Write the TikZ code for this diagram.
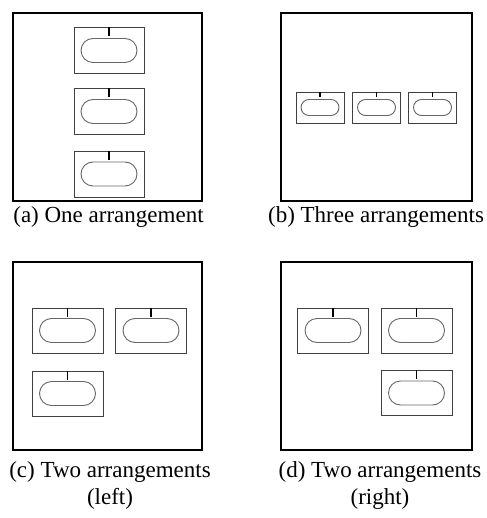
\documentclass[tikz,border=0pt]{standalone}
\usepackage{fontspec}
\setmainfont{Liberation Serif}
\usetikzlibrary{shapes.misc}
\tikzset{
  frame/.style={draw=black, line width=1.8pt},
  cellbox/.style={draw=black!75, line width=0.9pt, inner sep=0pt, minimum width=70pt, minimum height=46pt},
  smallcell/.style={cellbox, minimum width=48pt, minimum height=31pt},
  pill/.style={rounded rectangle, draw=black!60, line width=0.9pt, inner sep=0pt, minimum width=56pt, minimum height=24pt},
  smallpill/.style={pill, minimum width=38pt, minimum height=16pt},
  stub/.style={draw=black, line width=1.6pt},
  caption/.style={font=\fontsize{23}{27}\selectfont, align=center, inner sep=0pt}
}
\begin{document}
\begin{tikzpicture}[x=1pt, y=-1pt]
\useasboundingbox (0,0) rectangle (486,518);
% panel frames
\draw[frame] (13,13) rectangle (202,201);
\draw[frame] (281,13) rectangle (472,201);
\draw[frame] (13,262) rectangle (202,450);
\draw[frame] (281,262) rectangle (472,450);
% (a)
\foreach \n/\x/\y in {a1/109/50.5, a2/109/111.5, a3/109/174}{
  \node[cellbox] (\n) at (\x,\y) {};
  \node[pill] (\n p) at (\n.center) {};
  \coordinate (\n t) at ([yshift=-9pt]\n.north);
  \draw[stub] (\n.north) -- (\n t);
}
% (b)
\foreach \n/\x/\y in {b1/320/107.5, b2/376.5/107.5, b3/432.5/107.5}{
  \node[smallcell] (\n) at (\x,\y) {};
  \node[smallpill] (\n p) at (\n.center) {};
  \coordinate (\n t) at ([yshift=-5.5pt]\n.north);
  \draw[stub, line width=1.2pt] (\n.north) -- (\n t);
}
% (c)
\foreach \n/\x/\y in {c1/67.5/330.5, c2/151/330.5, c3/67.5/393.5}{
  \node[cellbox, minimum width=71pt, minimum height=45pt] (\n) at (\x,\y) {};
  \node[pill] (\n p) at (\n.center) {};
  \coordinate (\n t) at ([yshift=-9pt]\n.north);
  \draw[stub] (\n.north) -- (\n t);
}
% (d)
\foreach \n/\x/\y in {d1/333/330.5, d2/416.5/330.5, d3/416.5/393}{
  \node[cellbox, minimum width=71pt, minimum height=45pt] (\n) at (\x,\y) {};
  \node[pill] (\n p) at (\n.center) {};
  \coordinate (\n t) at ([yshift=-9pt]\n.north);
  \draw[stub] (\n.north) -- (\n t);
}
% captions
\node[caption] (capa) at (108.5,217) {(a) One arrangement};
\node[caption] (capb) at (376,217) {(b) Three arrangements};
\node[caption] (capc) at (110,485) {(c) Two arrangements\\(left)};
\node[caption] (capd) at (380,485) {(d) Two arrangements\\(right)};
\end{tikzpicture}
\end{document}
